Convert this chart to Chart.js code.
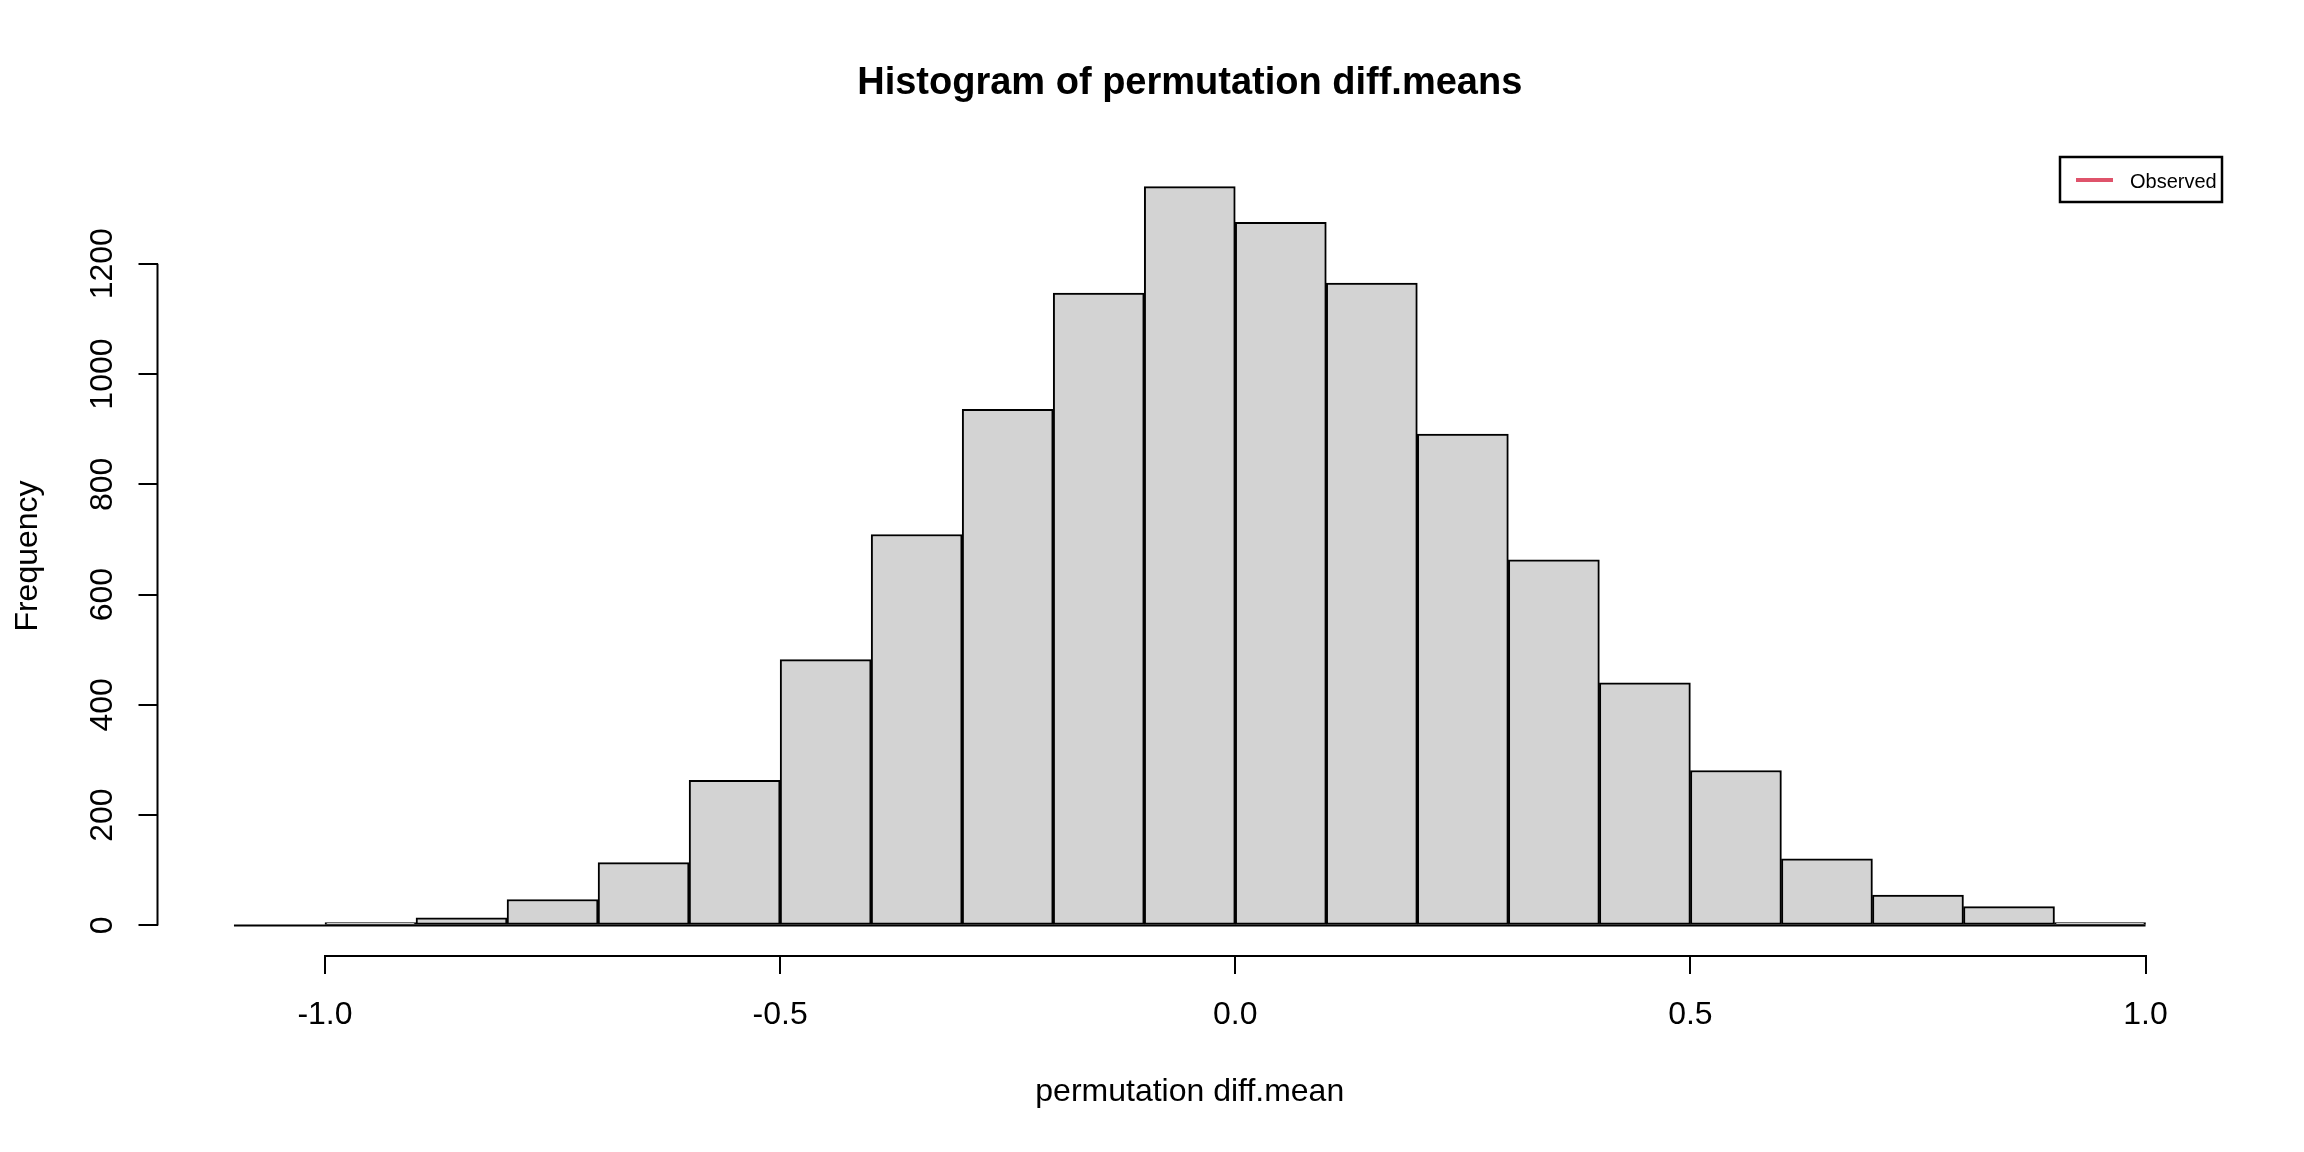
<!DOCTYPE html>
<html>
<head>
<meta charset="utf-8">
<title>Histogram of permutation diff.means</title>
<script src="https://cdn.jsdelivr.net/npm/chart.js@4.4.1/dist/chart.umd.min.js"></script>
<style>
  html, body { margin: 0; padding: 0; background: #ffffff; }
  #histChart { display: block; }
</style>
</head>
<body>
<canvas id="histChart" width="2304" height="1152" style="width:2304px;height:1152px"></canvas>
<script>
// bin edges of the histogram (21 bins of width 0.1)
const breaks = [-1.1, -1.0, -0.9, -0.8, -0.7, -0.6, -0.5, -0.4, -0.3, -0.2, -0.1,
                0.0, 0.1, 0.2, 0.3, 0.4, 0.5, 0.6, 0.7, 0.8, 0.9, 1.0];
// frequency of each bin
const counts = [0, 5, 14, 47, 114, 263, 482, 709, 936, 1147, 1340,
                1275, 1165, 891, 663, 440, 281, 121, 55, 34, 5];
const xTicks = [-1.0, -0.5, 0.0, 0.5, 1.0];
const yTicks = [0, 200, 400, 600, 800, 1000, 1200];

const chartTitle = 'Histogram of permutation diff.means';
const xLabel = 'permutation diff.mean';
const yLabel = 'Frequency';
const legendLabel = 'Observed';
const legendColor = '#DF536B';

const FONT = '"Liberation Sans", Arial, Helvetica, sans-serif';

// bars sit at the middle of each bin
const bars = counts.map((c, i) => ({ x: (breaks[i] + breaks[i + 1]) / 2, y: c }));
const baseline = [{ x: breaks[0], y: 0 }, { x: breaks[breaks.length - 1], y: 0 }];

// R extends the axis range by 4% on each side
const xPad = (breaks[breaks.length - 1] - breaks[0]) * 0.04;
const yMax = Math.max(...counts);
const yPad = yMax * 0.04;

// title, R-style axis lines and the legend box
const rDecorations = {
    id: 'rDecorations',
    afterDraw(chart) {
        const ctx = chart.ctx;
        const area = chart.chartArea;
        const xs = chart.scales.x;
        const ys = chart.scales.y;

        ctx.save();
        ctx.fillStyle = '#000';
        ctx.font = 'bold 38px ' + FONT;
        ctx.textAlign = 'center';
        ctx.textBaseline = 'alphabetic';
        ctx.fillText(chartTitle, (area.left + area.right) / 2, 94);

        // axis lines only span the tick range
        ctx.strokeStyle = '#000';
        ctx.lineWidth = 2;
        ctx.beginPath();
        ctx.moveTo(area.left, ys.getPixelForValue(yTicks[0]));
        ctx.lineTo(area.left, ys.getPixelForValue(yTicks[yTicks.length - 1]));
        ctx.moveTo(xs.getPixelForValue(xTicks[0]), area.bottom + 1);
        ctx.lineTo(xs.getPixelForValue(xTicks[xTicks.length - 1]), area.bottom + 1);
        ctx.stroke();

        // legend in the top right corner of the plot region
        const boxW = 162, boxH = 45;
        const bx = area.right - boxW;
        const by = area.top;
        ctx.lineWidth = 2.5;
        ctx.strokeRect(bx, by, boxW, boxH);
        ctx.strokeStyle = legendColor;
        ctx.lineWidth = 4;
        ctx.beginPath();
        ctx.moveTo(bx + 16, by + 23);
        ctx.lineTo(bx + 53, by + 23);
        ctx.stroke();
        ctx.fillStyle = '#000';
        ctx.font = '20px ' + FONT;
        ctx.textAlign = 'left';
        ctx.fillText(legendLabel, bx + 70, by + 31);
        ctx.restore();
    }
};

const ctx = document.getElementById('histChart').getContext('2d');

new Chart(ctx, {
    type: 'bar',
    data: {
        datasets: [{
            label: 'Frequency',
            data: bars,
            backgroundColor: '#D3D3D3',
            borderColor: '#000000',
            borderWidth: 2,
            borderSkipped: false,
            barPercentage: 1.0,
            categoryPercentage: 1.0,
            order: 2
        }, {
            type: 'line',
            label: 'baseline',
            data: baseline,
            borderColor: '#000000',
            borderWidth: 2,
            pointRadius: 0,
            order: 1
        }]
    },
    options: {
        responsive: false,
        devicePixelRatio: 1,
        animation: false,
        layout: {
            padding: { top: 157, right: 82, left: 0, bottom: 0 }
        },
        plugins: {
            legend: { display: false },
            tooltip: { enabled: false },
            title: { display: false }
        },
        scales: {
            x: {
                type: 'linear',
                offset: false,
                min: breaks[0] - xPad,
                max: breaks[breaks.length - 1] + xPad,
                afterBuildTicks: (scale) => {
                    scale.ticks = xTicks.map(v => ({ value: v }));
                },
                afterFit: (scale) => {
                    scale.height = 197;
                },
                grid: {
                    offset: false,
                    drawOnChartArea: false,
                    drawTicks: true,
                    tickLength: 19,
                    color: '#000',
                    lineWidth: 2
                },
                border: { display: false },
                ticks: {
                    autoSkip: false,
                    maxRotation: 0,
                    padding: 22,
                    color: '#000',
                    font: { family: FONT, size: 32 },
                    callback: (v) => Number(v).toFixed(1)
                },
                title: {
                    display: true,
                    text: xLabel,
                    color: '#000',
                    font: { family: FONT, size: 32 },
                    padding: { top: 0, bottom: 41 }
                }
            },
            y: {
                min: -yPad,
                max: yMax + yPad,
                afterBuildTicks: (scale) => {
                    scale.ticks = yTicks.map(v => ({ value: v }));
                },
                afterFit: (scale) => {
                    scale.width = 157.5;
                },
                grid: {
                    drawOnChartArea: false,
                    drawTicks: true,
                    tickLength: 19,
                    color: '#000',
                    lineWidth: 2
                },
                border: { display: false },
                ticks: {
                    autoSkip: false,
                    minRotation: 90,
                    maxRotation: 90,
                    crossAlign: 'center',
                    padding: 0,
                    color: '#000',
                    font: { family: FONT, size: 32 },
                    callback: (v) => String(v)
                },
                title: {
                    display: true,
                    text: yLabel,
                    color: '#000',
                    font: { family: FONT, size: 32 },
                    padding: { top: 9, bottom: 0 }
                }
            }
        }
    },
    plugins: [rDecorations]
});
</script>
</body>
</html>
